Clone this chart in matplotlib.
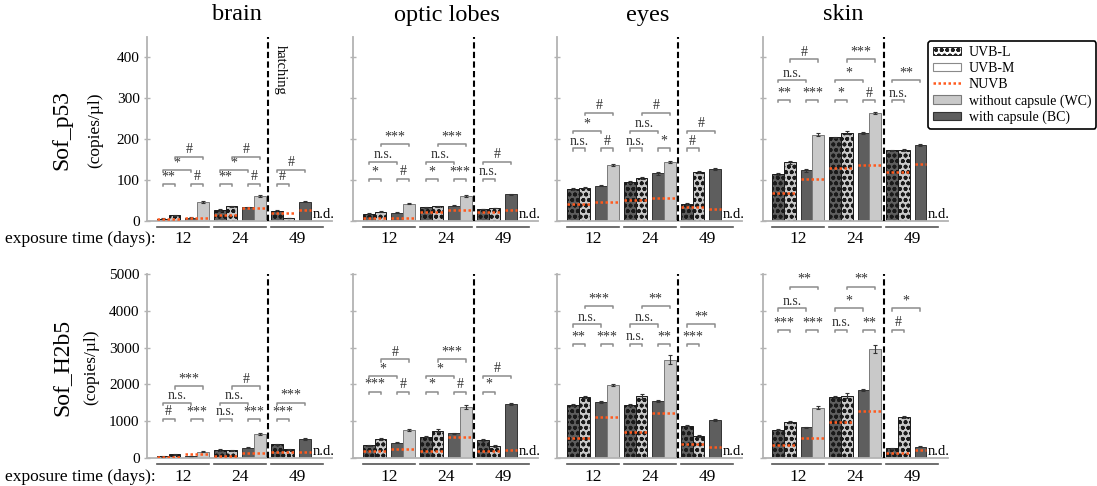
import numpy as np
import matplotlib
matplotlib.use('Agg')
import matplotlib.pyplot as plt
import matplotlib.transforms as mtransforms
from matplotlib.patches import Patch
from matplotlib.lines import Line2D

plt.rcParams['font.family'] = ['Liberation Serif', 'DejaVu Serif']
plt.rcParams['hatch.linewidth'] = 1.2

nan = np.nan

# ---------------- data ----------------
TISSUES = ['brain', 'optic lobes', 'eyes', 'skin']
GENES = ['Sof_p53', 'Sof_H2b5']
DAYS = ['12', '24', '49']
SERIES = ['UVB-L', 'UVB-M', 'NUVB', 'without capsule (WC)', 'with capsule (BC)']

# bars per group: [UVB-L BC, UVB-L WC, UVB-M BC, UVB-M WC]; nan = n.d.
p53_brain = [[5, 13, 7, 46.5], [26, 35, 33, 60], [24, 6, 46.5, nan]]
p53_optic = [[17, 22, 19.6, 41.6], [32.6, 35, 36.7, 59.6], [28.6, 31, 64.5, nan]]
p53_eyes = [[78, 81, 86, 137], [95.5, 104, 116, 143.6], [40.8, 119, 126.5, nan]]
p53_skin = [[114, 143, 123, 211], [204, 216, 215, 263.5], [172, 173, 186, nan]]

p53_brain_err = [[1, 1.5, 1, 2], [1.5, 2, 1.5, 2], [1.5, 0.5, 1.5, nan]]
p53_optic_err = [[1, 1.5, 1, 1.5], [1, 1.5, 1.5, 2.5], [1, 1, 2, nan]]
p53_eyes_err = [[2, 2, 2, 3], [2, 3, 3, 3], [1.5, 2, 2, nan]]
p53_skin_err = [[3, 3, 3, 3], [2, 3, 2, 3], [2, 2, 2, nan]]

# NUVB reference level for each pair (UVB-L pair, UVB-M pair)
p53_brain_nuvb = [[3, 7], [15, 30], [20, 26]]
p53_optic_nuvb = [[6, 7], [22, 26], [22, 26]]
p53_eyes_nuvb = [[41.6, 46.5], [50.6, 54.7], [32.6, 27.7]]
p53_skin_nuvb = [[67, 101], [130, 137], [119, 138]]

h2b5_brain = [[36, 90, 45, 164], [209, 200, 273, 655], [364, 227, 509, nan]]
h2b5_optic = [[336, 518, 409, 745], [573, 736, 664, 1391], [491, 318, 1464, nan]]
h2b5_eyes = [[1427, 1655, 1518, 1973], [1445, 1673, 1545, 2673], [873, 591, 1027, nan]]
h2b5_skin = [[764, 964, 827, 1364], [1655, 1691, 1836, 2964], [255, 1118, 300, nan]]

h2b5_brain_err = [[5, 10, 5, 15], [15, 15, 15, 25], [20, 10, 15, nan]]
h2b5_optic_err = [[15, 25, 15, 25], [20, 40, 20, 50], [25, 15, 25, nan]]
h2b5_eyes_err = [[30, 35, 40, 30], [30, 60, 40, 130], [20, 15, 20, nan]]
h2b5_skin_err = [[20, 25, 20, 40], [30, 60, 30, 120], [10, 30, 10, nan]]

h2b5_brain_nuvb = [[27, 90], [55, 127], [145, 164]]
h2b5_optic_nuvb = [[182, 245], [182, 573], [182, 209]]
h2b5_eyes_nuvb = [[527, 1118], [691, 1227], [373, 300]]
h2b5_skin_nuvb = [[355, 527], [964, 1282], [136, 200]]

# significance labels: days 12/24 -> [bar1-2, bar3-4, bar1-3, bar2-4]; day 49 -> [bar1-2, bar1-3]
p53_brain_sig = [['**', '#', '*', '#'], ['**', '#', '*', '#'], ['#', '#']]
p53_optic_sig = [['*', '#', 'n.s.', '***'], ['*', '***', 'n.s.', '***'], ['n.s.', '#']]
p53_eyes_sig = [['n.s.', '#', '*', '#'], ['n.s.', '*', 'n.s.', '#'], ['#', '#']]
p53_skin_sig = [['**', '***', 'n.s.', '#'], ['*', '#', '*', '***'], ['n.s.', '**']]
h2b5_brain_sig = [['#', '***', 'n.s.', '***'], ['n.s.', '***', 'n.s.', '#'], ['***', '***']]
h2b5_optic_sig = [['***', '#', '*', '#'], ['*', '#', '*', '***'], ['*', '#']]
h2b5_eyes_sig = [['**', '***', 'n.s.', '***'], ['n.s.', '**', 'n.s.', '**'], ['***', '**']]
h2b5_skin_sig = [['***', '***', 'n.s.', '**'], ['n.s.', '**', '*', '**'], ['#', '*']]

# bracket heights (data units) for the three bracket tiers of each panel
p53_bracket_levels = [[90, 124, 157], [102, 144, 188], [177, 220, 264], [295, 344, 395]]
h2b5_bracket_levels = [[1055, 1500, 1945], [1800, 2227, 2682], [3100, 3636, 4136], [3482, 4073, 4664]]

ROWS = [
    dict(vals=[p53_brain, p53_optic, p53_eyes, p53_skin],
         errs=[p53_brain_err, p53_optic_err, p53_eyes_err, p53_skin_err],
         nuvb=[p53_brain_nuvb, p53_optic_nuvb, p53_eyes_nuvb, p53_skin_nuvb],
         sig=[p53_brain_sig, p53_optic_sig, p53_eyes_sig, p53_skin_sig],
         lev=p53_bracket_levels, ymax=450, ticks=[0, 100, 200, 300, 400]),
    dict(vals=[h2b5_brain, h2b5_optic, h2b5_eyes, h2b5_skin],
         errs=[h2b5_brain_err, h2b5_optic_err, h2b5_eyes_err, h2b5_skin_err],
         nuvb=[h2b5_brain_nuvb, h2b5_optic_nuvb, h2b5_eyes_nuvb, h2b5_skin_nuvb],
         sig=[h2b5_brain_sig, h2b5_optic_sig, h2b5_eyes_sig, h2b5_skin_sig],
         lev=h2b5_bracket_levels, ymax=5000, ticks=[0, 1000, 2000, 3000, 4000, 5000]),
]

# ---------------- style / layout ----------------
DARK = '#5e5e5e'
LIGHT = '#c9c9c9'
ORANGE = '#ff5a1e'
SPINE = '#b3b3b3'
GRID_LINE = '#8c8c8c'
STEP = 4.87
OFFS = [0.0, 1.0, 2.43, 3.43]
FACES = [DARK, LIGHT, DARK, LIGHT]
EDGES = ['#1a1a1a', '#1a1a1a', '#333333', '#7a7a7a']
DOTS = 'ooo'
HATCHES = [DOTS, DOTS, None, None]

W, H = 1097, 486
fig = plt.figure(figsize=(W / 100, H / 100), dpi=100)

lefts = [147.3, 353.3, 557.3, 762.5]
tops = [37.0, 274.3]
heights = [183.7, 183.4]
AX_W = 185.0
title_x = [237, 447, 648, 843]
under_off = [6.3, 6.6]
label_off = [18.5, 19.0]


def add_ax(l, t, w, h):
    return fig.add_axes([l / W, 1 - (t + h) / H, w / W, h / H])


for r, row in enumerate(ROWS):
    ymax = row['ymax']
    hpx = heights[r]
    for c in range(4):
        ax = add_ax(lefts[c], tops[r], AX_W, hpx)
        ax.set_xlim(-0.83, -0.83 + AX_W / 11.7)
        ax.set_ylim(0, ymax)
        for s in ['top', 'right']:
            ax.spines[s].set_visible(False)
        for s in ['left', 'bottom']:
            ax.spines[s].set_color(SPINE)
            ax.spines[s].set_linewidth(1.3)
        ax.set_xticks([])
        ax.set_yticks(row['ticks'])
        ax.tick_params(axis='y', direction='inout', length=5, width=1, color=SPINE,
                       labelsize=11, pad=3)
        if c != 0:
            ax.set_yticklabels([])
        ax.patch.set_alpha(0)

        vals = row['vals'][c]
        errs = row['errs'][c]
        nuvb = row['nuvb'][c]
        sig = row['sig'][c]
        lev = row['lev'][c]
        blend = mtransforms.blended_transform_factory(ax.transData, ax.transAxes)
        tick_d = 2.2 / hpx * ymax

        for g, day in enumerate(DAYS):
            gx = g * STEP
            for i in range(4):
                v = vals[g][i]
                x = gx + OFFS[i]
                if np.isnan(v):
                    ax.text(x + 0.1, 0, 'n.d.', ha='left', va='bottom', fontsize=10.5)
                    continue
                ax.bar(x, v, width=1, align='edge', color=FACES[i], edgecolor=EDGES[i],
                       linewidth=0.7, hatch=HATCHES[i], zorder=2)
                ax.errorbar(x + 0.5, v, yerr=errs[g][i], fmt='none', ecolor='#333333',
                            elinewidth=0.8, capsize=1.5, capthick=0.8, zorder=3)
            # NUVB levels
            pa, pb = nuvb[g]
            ax.plot([gx + OFFS[0], gx + OFFS[1] + 1], [pa, pa], color=ORANGE, lw=1.8,
                    ls=(0, (1, 1)), zorder=4, solid_capstyle='butt')
            endb = gx + OFFS[3] + 1 if not np.isnan(vals[g][3]) else gx + OFFS[2] + 1
            ax.plot([gx + OFFS[2], endb], [pb, pb], color=ORANGE, lw=1.8,
                    ls=(0, (1, 1)), zorder=4)
            # significance brackets
            ctr = [gx + o + 0.5 for o in OFFS]
            if len(sig[g]) == 4:
                pairs = [(0, 1, lev[0]), (2, 3, lev[0]), (0, 2, lev[1]), (1, 3, lev[2])]
            else:
                pairs = [(0, 1, lev[0]), (0, 2, lev[1])]
            for (a, b, yl), lab in zip(pairs, sig[g]):
                ax.plot([ctr[a], ctr[a], ctr[b], ctr[b]],
                        [yl - tick_d, yl, yl, yl - tick_d], color=GRID_LINE, lw=1.1,
                        clip_on=False, zorder=3)
                ax.annotate(lab, xy=((ctr[a] + ctr[b]) / 2, yl), xytext=(0, 0.5),
                            textcoords='offset points', ha='center', va='bottom',
                            fontsize=10, color='#333333')
            # group underline and label
            ax.plot([gx, gx + OFFS[3] + 1], [-under_off[r] / hpx] * 2, transform=blend,
                    clip_on=False, color='#555555', lw=1.2)
            ax.text(gx + (OFFS[3] + 1) / 2, -label_off[r] / hpx, day, transform=blend,
                    ha='center', va='center', fontsize=12.5)

        # hatching divider
        xdiv = (STEP + OFFS[3] + 1 + 2 * STEP) / 2
        ax.axvline(xdiv, color='black', lw=1.5, ls=(0, (3, 1.6)), zorder=5)
        if r == 0 and c == 0:
            ax.text(xdiv + 0.45, 0.955 * ymax, 'hatching', rotation=270, ha='left', va='top',
                    fontsize=10.5)
        if r == 0:
            fig.text(title_x[c] / W, 1 - 15 / H, TISSUES[c], ha='center', va='center',
                     fontsize=17.5)

    # row labels
    yc = tops[r] + hpx / 2
    fig.text(62 / W, 1 - (yc + 1) / H, GENES[r], rotation=90, ha='center', va='center',
             fontsize=17)
    fig.text((95 - 4 * r) / W, 1 - (yc + 1) / H, '(copies/µl)', rotation=90, ha='center',
             va='center', fontsize=12.5)
    fig.text(80 / W, 1 - (tops[r] + hpx + label_off[r]) / H, 'exposure time (days):',
             ha='center', va='center', fontsize=12.5)

handles = [
    Patch(facecolor='white', edgecolor='#222222', hatch=DOTS, linewidth=0.7),
    Patch(facecolor='white', edgecolor='#8a8a8a', linewidth=0.8),
    Line2D([], [], color=ORANGE, lw=1.8, ls=(0, (1, 1))),
    Patch(facecolor=LIGHT, edgecolor='#7a7a7a', linewidth=0.8),
    Patch(facecolor=DARK, edgecolor='#333333', linewidth=0.8),
]
leg = fig.legend(handles, SERIES, loc='upper left', bbox_to_anchor=(928 / W, 1 - 41 / H),
                 frameon=True, fancybox=True, fontsize=10, handlelength=2.0,
                 handleheight=0.6, labelspacing=0.22, borderpad=0.35, handletextpad=0.6,
                 borderaxespad=0)
leg.get_frame().set_edgecolor('black')
leg.get_frame().set_linewidth(1.2)
leg.get_frame().set_alpha(1)

fig.savefig('out.png', dpi=100)
